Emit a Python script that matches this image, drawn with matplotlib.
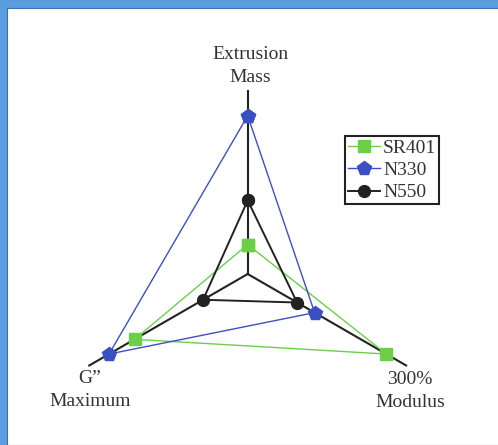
import numpy as np
import matplotlib
matplotlib.use("Agg")
import matplotlib.pyplot as plt
from matplotlib.patches import Rectangle

axes_labels = ["Extrusion\nMass", "300%\nModulus", "G\u201d\nMaximum"]
series_names = ["SR401", "N330", "N550"]
sr401 = [0.16, 0.87, 0.71]
n330 = [0.86, 0.42, 0.87]
n550 = [0.40, 0.31, 0.28]

colors = {"SR401": "#6ccf48", "N330": "#3b4fc4", "N550": "#222222"}
markers = {"SR401": "s", "N330": "p", "N550": "o"}
msizes = {"SR401": 8, "N330": 10, "N550": 8.5}
lws = {"SR401": 1.0, "N330": 1.0, "N550": 1.4}

plt.rcParams['font.family'] = ['Liberation Serif', 'DejaVu Serif']

W, H = 498, 445
fig = plt.figure(figsize=(W / 100, H / 100), dpi=100)
fig.patch.set_facecolor("#5b9ee0")
fig.add_artist(Rectangle((7 / W, 0), 1, 1 - 8 / H, transform=fig.transFigure,
                         facecolor="white", edgecolor="#3d6fb0", lw=0.8, zorder=-10))

cx, cy, R = 247.7, 274.0, 184.0
ax = fig.add_axes([(cx - R) / W, 1 - (cy + R) / H, 2 * R / W, 2 * R / H], projection="polar")
ax.set_zorder(1)
ax.set_theta_offset(np.pi / 2)
ax.set_theta_direction(-1)
ax.set_ylim(0, 1)
ax.grid(False)
ax.set_xticks([])
ax.set_yticks([])
ax.spines["polar"].set_visible(False)
ax.patch.set_alpha(0)

theta = np.deg2rad([0, 120, 240])
for t in theta:
    ax.plot([t, t], [0, 1], color="#222222", lw=1.5, zorder=1)

data = {"SR401": sr401, "N330": n330, "N550": n550}
handles = []
for i, name in enumerate(series_names):
    vals = data[name]
    th = np.append(theta, theta[0])
    rv = np.append(vals, vals[0])
    h, = ax.plot(th, rv, color=colors[name], lw=lws[name], marker=markers[name],
                 markersize=msizes[name], markerfacecolor=colors[name],
                 markeredgecolor=colors[name], zorder=2 + i, clip_on=False,
                 label=name)
    handles.append(h)

fig.text(250 / W, 1 - 66 / H, axes_labels[0], ha="center", va="center",
         fontsize=14, color="#333333", linespacing=1.4)
fig.text(410 / W, 1 - 391 / H, axes_labels[1], ha="center", va="center",
         fontsize=14, color="#333333", linespacing=1.4)
fig.text(90 / W, 1 - 390 / H, axes_labels[2], ha="center", va="center",
         fontsize=14, color="#333333", linespacing=1.4)

leg = fig.legend(handles=handles, loc="upper left", bbox_to_anchor=(345 / W, 1 - 136 / H),
                 fontsize=14, handlelength=1.65, handletextpad=0.15, labelspacing=0.25,
                 borderpad=0.15, borderaxespad=0, fancybox=False, framealpha=1,
                 edgecolor="#222222")
leg.set_zorder(5)
leg.get_frame().set_linewidth(1.5)
for t in leg.get_texts():
    t.set_color("#333333")

fig.savefig("out.png", dpi=100, facecolor=fig.get_facecolor())
